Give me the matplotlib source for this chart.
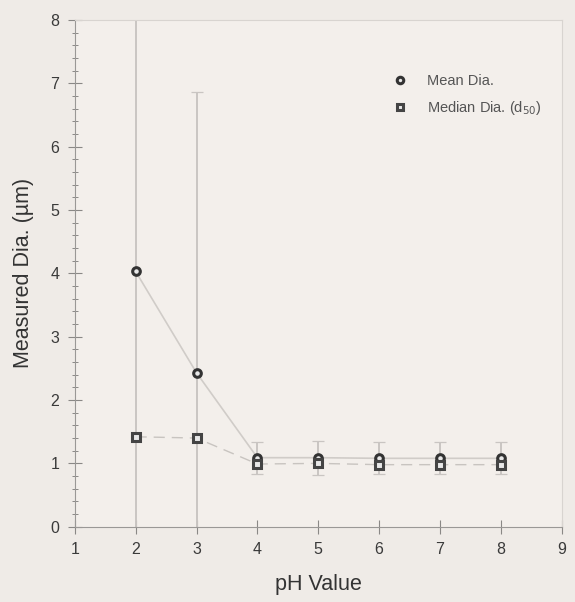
import matplotlib
matplotlib.use("Agg")
import matplotlib.pyplot as plt
from matplotlib.ticker import MultipleLocator
import numpy as np

plt.rcParams['font.family'] = ['Liberation Sans', 'DejaVu Sans']

ph = [2, 3, 4, 5, 6, 7, 8]
mean_dia = [4.03, 2.43, 1.09, 1.09, 1.08, 1.08, 1.08]
mean_err = [4.3, 4.43, 0.25, 0.27, 0.25, 0.25, 0.25]
median_dia = [1.42, 1.40, 0.99, 1.00, 0.98, 0.98, 0.98]

bg = '#efebe7'
fig = plt.figure(figsize=(5.75, 6.02), dpi=100, facecolor=bg)
ax = fig.add_axes([0.130, 0.125, 0.847, 0.842], facecolor='#f3efeb')

ax.errorbar(ph, mean_dia, yerr=mean_err, fmt='none', ecolor='#c9c5c2',
            elinewidth=1.4, capsize=4, capthick=0.9, zorder=2)
ax.plot(ph, mean_dia, '-', color='#d0ccc8', lw=1.2, zorder=3)
ax.plot(ph, median_dia, '--', color='#c8c4c0', lw=1.0, dashes=(8, 5), zorder=3)
ax.plot(ph, mean_dia, 'o', ms=5.5, mfc='#e8e8e8', mec='#333333', mew=2.2,
        zorder=5, label='Mean Dia.')
ax.plot(ph, median_dia, 's', ms=5.5, mfc='#e8e8e8', mec='#444444', mew=2.2,
        zorder=5, label='Median Dia. (d$_{50}$)')

ax.set_xlim(1, 9)
ax.set_ylim(0, 8)
ax.xaxis.set_major_locator(MultipleLocator(1))
ax.yaxis.set_major_locator(MultipleLocator(1))
ax.yaxis.set_minor_locator(MultipleLocator(0.2))
ax.tick_params(axis='both', which='major', direction='inout', length=10,
               width=0.8, color='#8a8886', labelsize=11.5, labelcolor='#3a3a3a', pad=6)
ax.tick_params(axis='y', which='minor', direction='inout', length=5,
               width=0.7, color='#8a8886')
for s in ['left', 'bottom']:
    ax.spines[s].set_color('#9a9896')
    ax.spines[s].set_linewidth(0.8)
for s in ['top', 'right']:
    ax.spines[s].set_color('#d8d4d0')
    ax.spines[s].set_linewidth(0.8)

ax.set_xlabel('pH Value', fontsize=15.5, color='#333333', labelpad=12)
ax.set_ylabel('Measured Dia. (µm)', fontsize=15.5, color='#333333', labelpad=12)

leg = ax.legend(loc='upper right', bbox_to_anchor=(0.985, 0.919), frameon=False,
                fontsize=10.5, handlelength=1.0, handletextpad=1.3,
                labelspacing=0.75, labelcolor='#555555', markerscale=0.85)

fig.savefig('out.png', dpi=100, facecolor=bg)
